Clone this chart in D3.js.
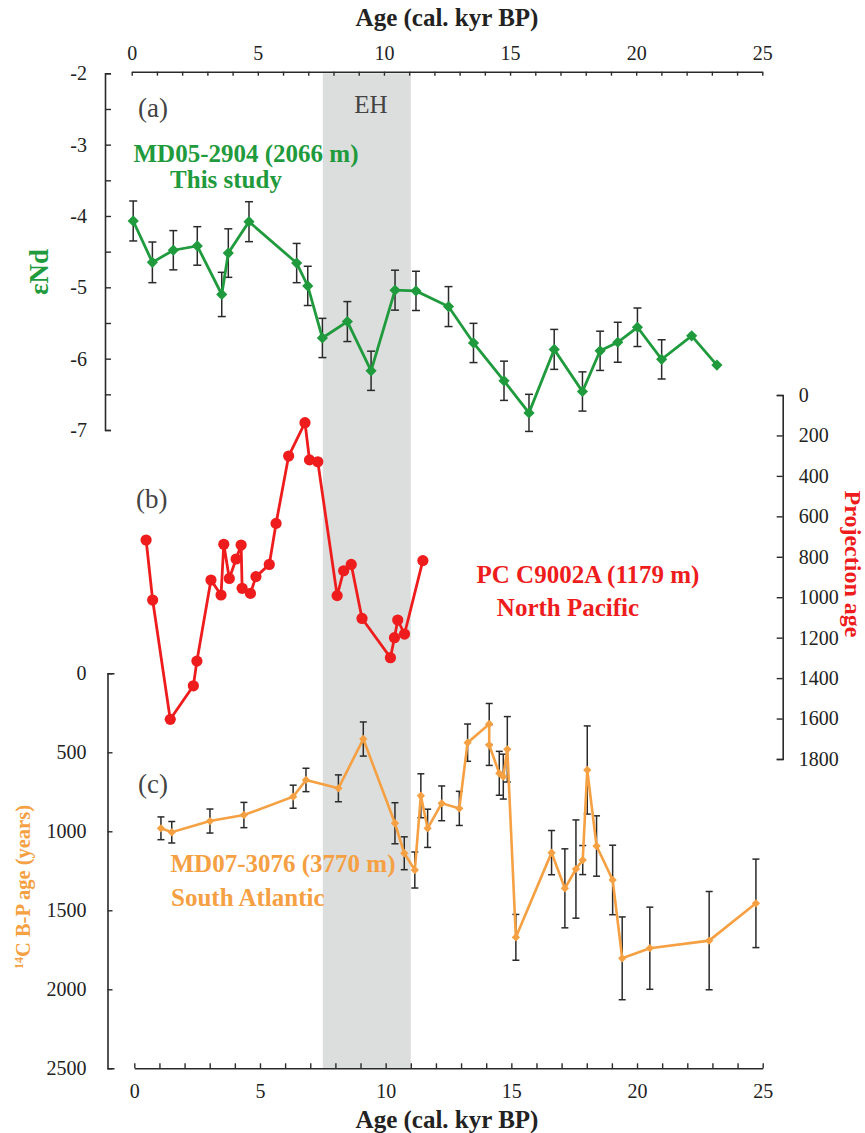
<!DOCTYPE html>
<html><head><meta charset="utf-8">
<script src="https://cdn.jsdelivr.net/npm/d3@7"></script>
<style>
body{margin:0;background:#fff;}
svg text{font-family:"Liberation Serif","Times New Roman",serif;}
</style></head>
<body><svg id="c" width="865" height="1133" font-family="Liberation Serif, serif"></svg>
<script>
// ---- data ----
// (a) MD05-2904 eNd
const ageA = [0.06,0.82,1.65,2.60,3.57,3.83,4.65,6.54,6.98,7.56,8.55,9.49,10.44,11.27,12.56,13.55,14.76,15.75,16.75,17.87,18.57,19.27,20.05,21.01,22.20,23.20];
const endA = [-4.07,-4.65,-4.48,-4.42,-5.10,-4.52,-4.08,-4.66,-4.98,-5.71,-5.48,-6.17,-5.04,-5.05,-5.27,-5.78,-6.31,-6.76,-5.87,-6.46,-5.89,-5.77,-5.56,-6.01,-5.68,-6.09];
const errA = [0.28,0.285,0.275,0.27,0.31,0.34,0.28,0.275,0.275,0.275,0.28,0.275,0.28,0.275,0.28,0.275,0.275,0.26,0.28,0.275,0.275,0.28,0.27,0.275,0,0];
// (b) PC C9002A projection age
const ageB = [0.47,0.73,1.43,2.35,2.49,3.05,3.45,3.56,3.78,4.05,4.25,4.29,4.62,4.84,5.37,5.64,6.14,6.79,6.97,7.30,8.07,8.33,8.63,9.06,10.19,10.35,10.48,10.75,11.48];
const projB = [717,1014,1604,1438,1316,915,989,738,907,811,742,956,981,898,838,635,302,137,321,330,992,869,838,1105,1299,1200,1113,1182,819];
// (c) MD07-3076 14C B-P age
const ageC = [1.06,1.49,3.01,4.36,6.32,6.83,8.12,9.11,10.37,10.74,11.16,11.40,11.67,12.23,12.93,13.26,14.12,14.12,14.52,14.68,14.84,15.18,16.60,17.13,17.57,17.84,18.02,18.39,19.03,19.41,20.51,22.87,24.73];
const bpC  = [981,1006,935,897,781,675,728,416,949,1139,1245,775,981,823,855,439,321,454,633,654,481,1671,1135,1361,1239,1182,612,1093,1308,1804,1740,1692,1456];
const errC = [72,68,76,80,73,74,85,108,130,104,114,139,121,110,108,118,130,129,139,142,207,145,140,250,311,92,279,191,220,262,260,311,280];
// axes / annotation
const ageDomain = [0,25];
const ehBand = [7.5,11];
const yDomainA = [-2,-7];
const yDomainB = [0,1800];
const yDomainC = [0,2500];
const xTickLabels = [0,5,10,15,20,25];

const green="#1f9a3c", red="#ee1c1c", orange="#f5a042", ink="#2a2a2a";
const SERIF="Liberation Serif, Times New Roman, serif";
const svg=d3.select("#c");

const xTop=d3.scaleLinear(ageDomain,[131.7,762.3]);
const xBot=d3.scaleLinear(ageDomain,[134.3,762.7]);
const yA=d3.scaleLinear(yDomainA,[73.3,430]);
const yB=d3.scaleLinear(yDomainB,[395,759]);
const yC=d3.scaleLinear(yDomainC,[673.3,1068.3]);

// EH band
svg.append("rect").attr("x",xBot(ehBand[0])).attr("width",xBot(ehBand[1])-xBot(ehBand[0]))
  .attr("y",yA(-2)).attr("height",yC(2500)-yA(-2)).attr("fill","#dcdedd");

function styleAxis(g,fs){
  g.attr("font-family",SERIF).attr("font-size",fs);
  g.select(".domain").attr("stroke",ink).attr("stroke-width",1.6);
  g.selectAll(".tick line").attr("stroke",ink).attr("stroke-width",1.4);
  g.selectAll("text").attr("fill","#222").attr("font-family",SERIF).attr("font-size",fs);
}
const intTicks=d3.range(0,26,1);
// top axis
const gt=svg.append("g").attr("transform",`translate(0,${71.7})`)
 .call(d3.axisTop(xTop).tickValues(intTicks).tickSizeInner(-4).tickSizeOuter(0).tickPadding(12)
  .tickFormat(d=>xTickLabels.includes(d)?d:""));
styleAxis(gt,20);
// bottom axis
const gb=svg.append("g").attr("transform",`translate(0,${1068.3})`)
 .call(d3.axisBottom(xBot).tickValues(intTicks).tickSizeInner(-5).tickSizeOuter(0).tickPadding(16)
  .tickFormat(d=>xTickLabels.includes(d)?d:""));
styleAxis(gb,20);
// left axis (a)
const ga=svg.append("g").attr("transform",`translate(105,0)`)
 .call(d3.axisLeft(yA).tickValues(d3.range(-2,-7.01,-0.5)).tickSizeInner(-6).tickSizeOuter(-6).tickPadding(18)
  .tickFormat(d=>Number.isInteger(d)?String(d):""));
styleAxis(ga,20);
// right axis (b)
const gr=svg.append("g").attr("transform",`translate(782.7,0)`)
 .call(d3.axisRight(yB).tickValues(d3.range(0,1801,200)).tickSizeInner(-6).tickSizeOuter(-6).tickPadding(16)
  .tickFormat(d3.format("d")));
styleAxis(gr,20);
// left axis (c)
const gc=svg.append("g").attr("transform",`translate(107.5,0)`)
 .call(d3.axisLeft(yC).tickValues(d3.range(0,2501,500)).tickSizeInner(-5).tickSizeOuter(-7).tickPadding(21)
  .tickFormat(d3.format("d")));
styleAxis(gc,20);

// axis titles
function title(tr,s,fs,fill){
  return svg.append("text").attr("transform",tr).attr("text-anchor","middle").attr("font-weight","bold")
    .attr("font-family",SERIF).attr("font-size",fs).attr("fill",fill).text(s);
}
title("translate(447,26)","Age (cal. kyr BP)",25,"#222");
title("translate(447,1128)","Age (cal. kyr BP)",25,"#222");
title("translate(48,272) rotate(-90)","εNd",27,green);
title("translate(845,564) rotate(90)","Projection age",24,red);
const lc=title("translate(30,887) rotate(-90)","",20.5,orange);
lc.append("tspan").attr("baseline-shift","super").attr("font-size",12).text("14");
lc.append("tspan").text("C B-P age (years)");

// panel labels
function txt(x,y,s,fs,fill,bold,anchor){
  svg.append("text").attr("x",x).attr("y",y).text(s).attr("font-size",fs).attr("fill",fill)
   .attr("font-family",SERIF).attr("font-weight",bold?"bold":"normal").attr("text-anchor",anchor||"start");
}
txt(138,117,"(a)",27,"#444");
txt(371,113,"EH",25,"#444",false,"middle");
txt(246,162,"MD05-2904 (2066 m)",25,green,true,"middle");
txt(226,188,"This study",25,green,true,"middle");
txt(136,508,"(b)",27,"#444");
txt(588,583,"PC C9002A (1179 m)",25,red,true,"middle");
txt(568,616,"North Pacific",25,red,true,"middle");
txt(138,793,"(c)",27,"#444");
txt(283,872,"MD07-3076 (3770 m)",25,orange,true,"middle");
txt(171,906,"South Atlantic",25,orange,true);

// error bars helper
function errBars(xs,ys,es,xS,yS,cap){
  const g=svg.append("g").attr("stroke",ink).attr("stroke-width",1.5).attr("fill","none");
  xs.forEach((a,i)=>{
    if(!es[i]) return;
    const x=xS(a), y1=yS(ys[i]-es[i]), y2=yS(ys[i]+es[i]);
    g.append("line").attr("x1",x).attr("x2",x).attr("y1",y1).attr("y2",y2);
    g.append("line").attr("x1",x-cap).attr("x2",x+cap).attr("y1",y1).attr("y2",y1);
    g.append("line").attr("x1",x-cap).attr("x2",x+cap).attr("y1",y2).attr("y2",y2);
  });
}

// (a)
errBars(ageA,endA,errA,xTop,yA,4);
svg.append("path").datum(ageA.map((a,i)=>[a,endA[i]]))
  .attr("d",d3.line().x(d=>xTop(d[0])).y(d=>yA(d[1]))).attr("fill","none").attr("stroke",green).attr("stroke-width",2.8);
svg.append("g").selectAll("path").data(ageA).join("path")
  .attr("transform",(a,i)=>`translate(${xTop(a)},${yA(endA[i])})`)
  .attr("d",d3.symbol(d3.symbolDiamond2,80)).attr("fill",green);

// (b)
svg.append("path").datum(ageB.map((a,i)=>[a,projB[i]]))
  .attr("d",d3.line().x(d=>xBot(d[0])).y(d=>yB(d[1]))).attr("fill","none").attr("stroke",red).attr("stroke-width",2.8);
svg.append("g").selectAll("circle").data(ageB).join("circle")
  .attr("cx",a=>xBot(a)).attr("cy",(a,i)=>yB(projB[i])).attr("r",5.6).attr("fill",red);

// (c)
errBars(ageC,bpC,errC,xBot,yC,3.5);
svg.append("path").datum(ageC.map((a,i)=>[a,bpC[i]]))
  .attr("d",d3.line().x(d=>xBot(d[0])).y(d=>yC(d[1]))).attr("fill","none").attr("stroke",orange).attr("stroke-width",2.6);
svg.append("g").selectAll("path").data(ageC).join("path")
  .attr("transform",(a,i)=>`translate(${xBot(a)},${yC(bpC[i])})`)
  .attr("d",d3.symbol(d3.symbolDiamond2,44)).attr("fill",orange);
</script></body></html>
